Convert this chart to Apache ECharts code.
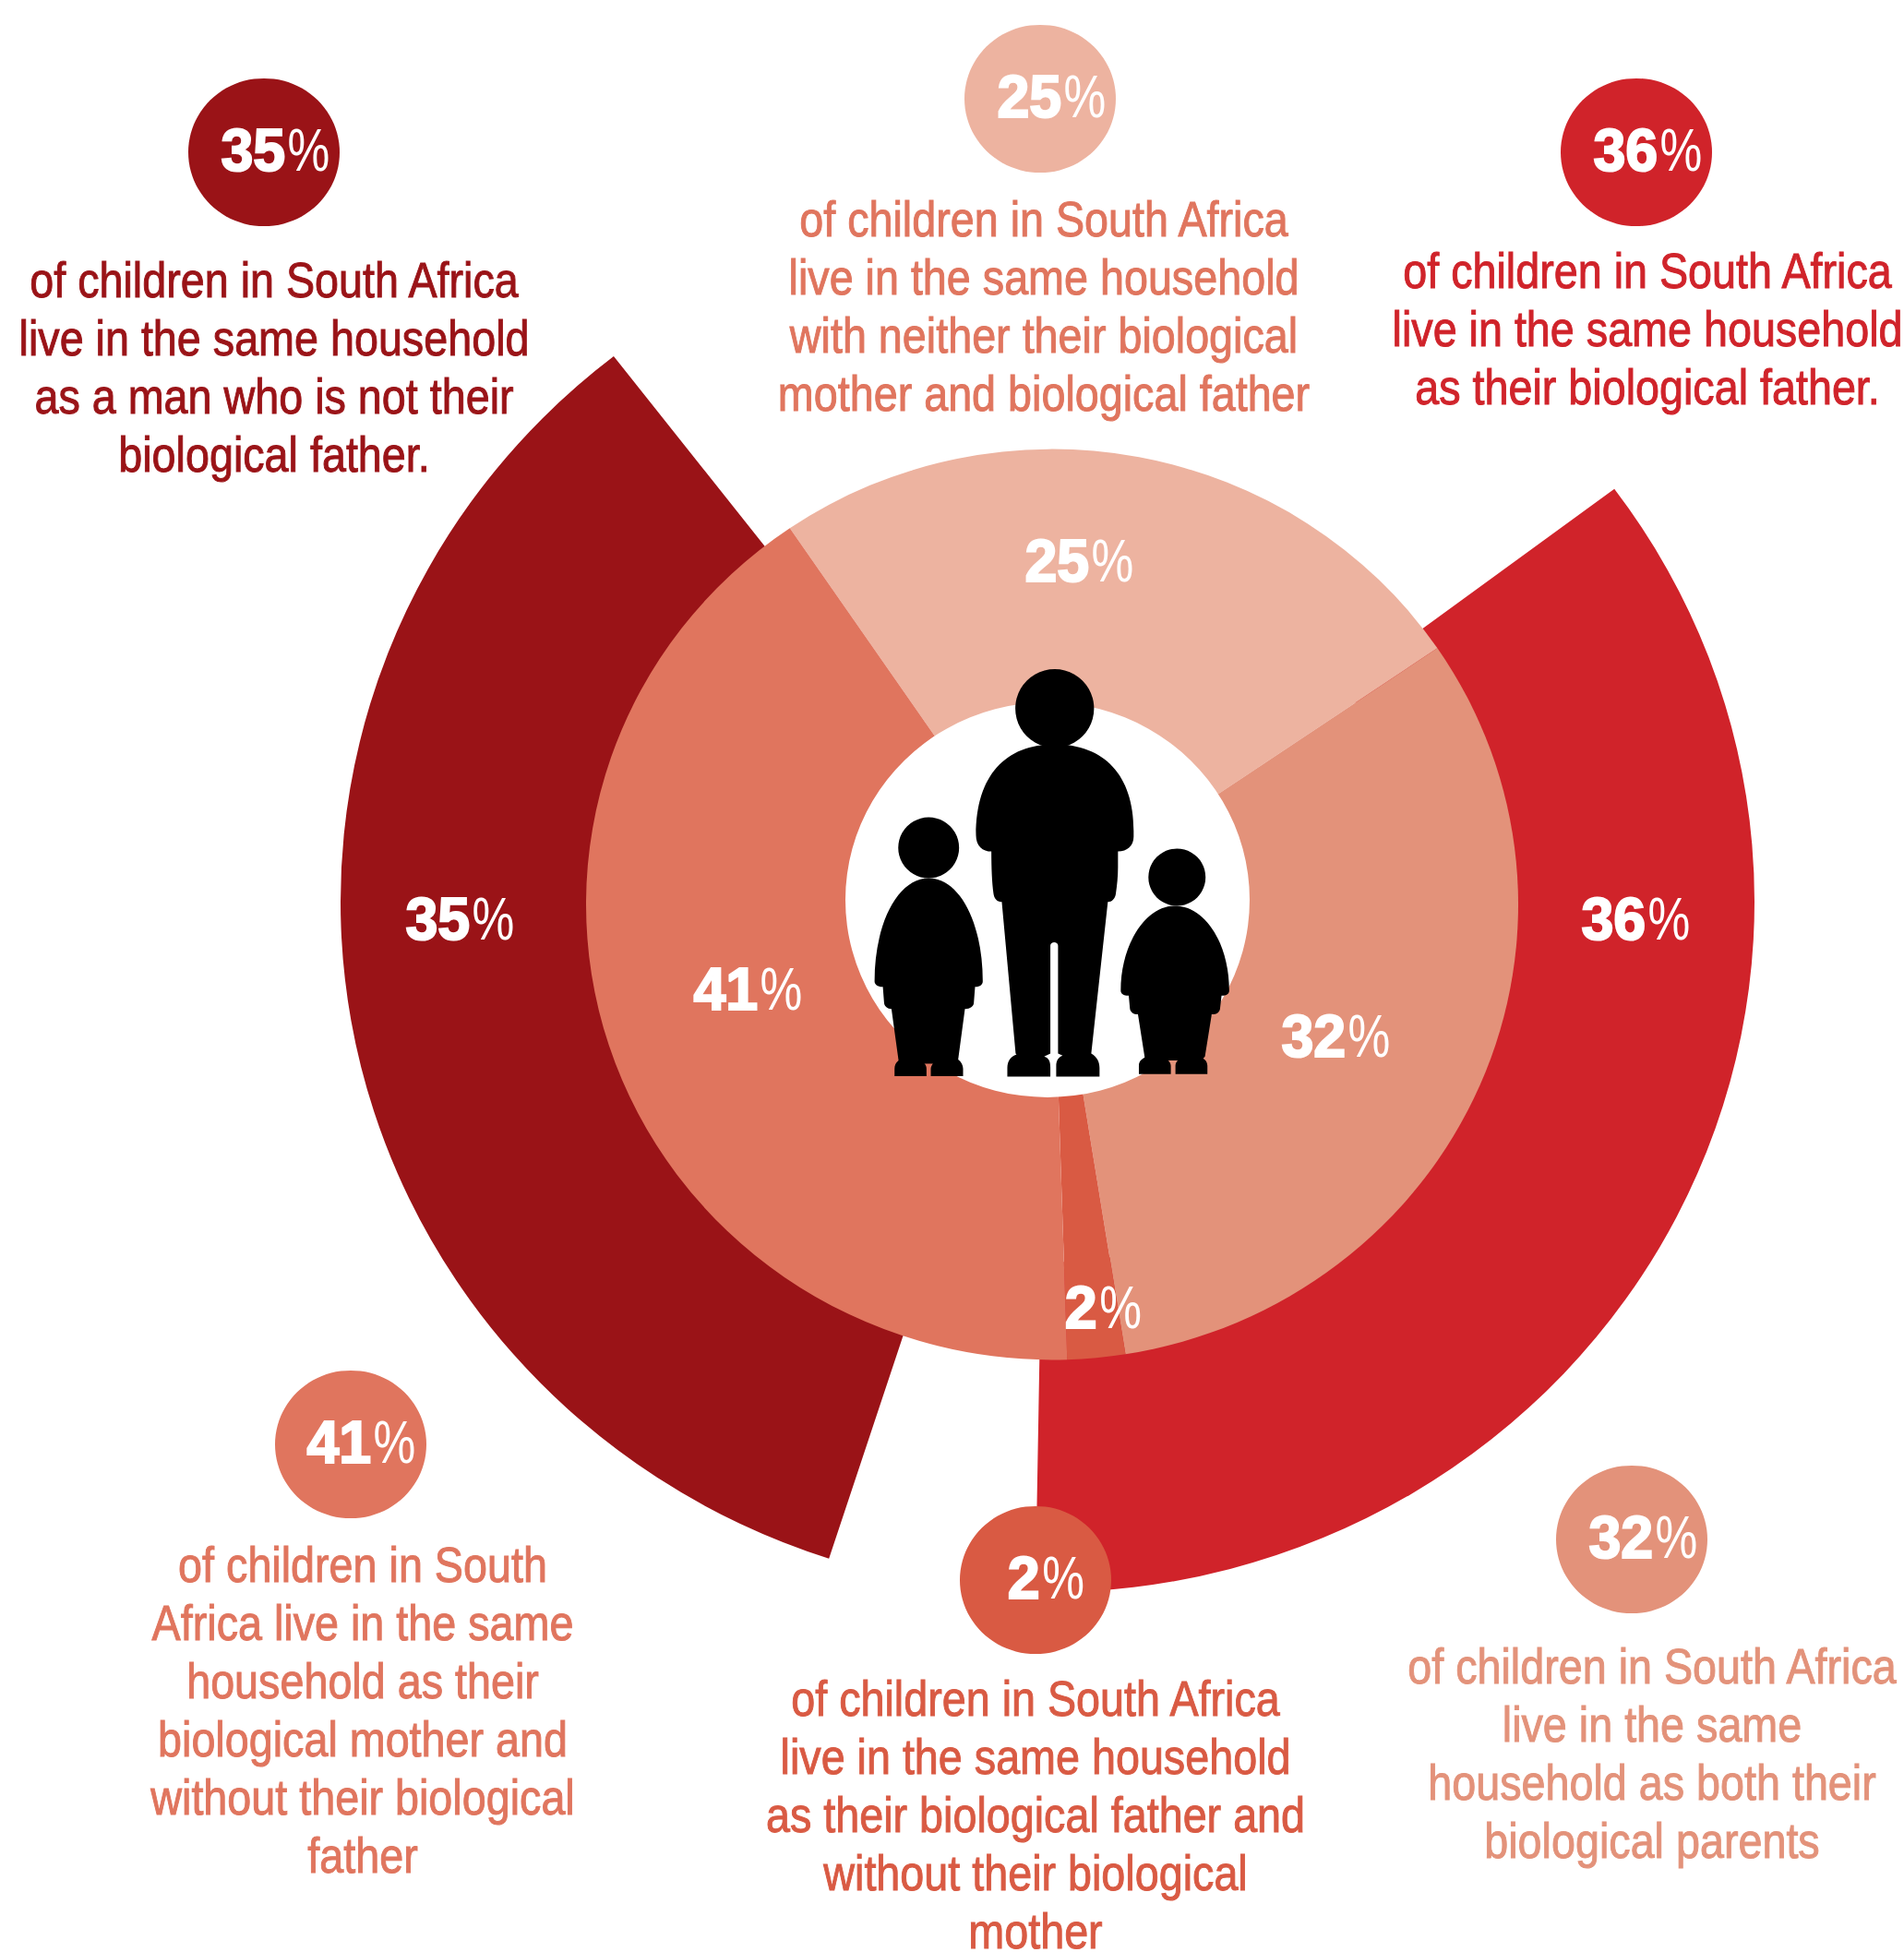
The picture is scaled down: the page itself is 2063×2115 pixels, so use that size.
<!DOCTYPE html>
<html>
<head>
<meta charset="utf-8">
<style>
html,body{margin:0;padding:0;background:#fff;overflow:hidden;width:2063px;height:2115px}
/* The drawing is slightly wider than tall, so the round rings are flattened a little */
#c{width:2063px;height:2165px;transform:scaleY(0.977);transform-origin:0 0}
</style>
<script src="https://cdn.jsdelivr.net/npm/echarts@6/dist/echarts.min.js"></script>
</head>
<body>
<div id="c"></div>
<script>
// Household shares, inner ring (clockwise from the upper left)
const innerNames = ['Neither parent', 'Both parents', 'Father only', 'Mother only'];
const innerValues = [25, 32, 2, 41];
const innerColors = ['#EDB3A0', '#E3927A', '#D95A43', '#E0755E'];

// Outer ring: two shares separated by unpainted spacers
const outerNames = ['Biological father', 'spacer A', 'Man who is not biological father', 'spacer B'];
const outerValues = [36, 4.8, 35, 25.7];
const outerColors = ['#D0232A', 'transparent', '#9A1317', 'transparent'];

const captionOther = ['of children in South Africa', 'live in the same household', 'as a man who is not their', 'biological father.'];
const captionNeither = ['of children in South Africa', 'live in the same household', 'with neither their biological', 'mother and biological father'];
const captionFather = ['of children in South Africa', 'live in the same household', 'as their biological father.'];
const captionMother = ['of children in South', 'Africa live in the same', 'household as their', 'biological mother and', 'without their biological', 'father'];
const captionFatherOnly = ['of children in South Africa', 'live in the same household', 'as their biological father and', 'without their biological', 'mother'];
const captionBoth = ['of children in South Africa', 'live in the same', 'household as both their', 'biological parents'];

const SANS = '"Liberation Sans",Arial,sans-serif';
const FLAT = 0.977;
const sy = y => y / FLAT;

// Heavy number followed by a light, condensed percent sign
function pctText(value, x, y) {
  const digits = String(value);
  const digitW = 34.5, gap = 3, signW = 45;
  const left = x - (digits.length * digitW + gap + signW) / 2;
  return [
    {
      type: 'text', x: left, y: sy(y), z: 30, scaleX: 0.95,
      style: { text: digits, fontFamily: SANS, fontWeight: 'bold', fontSize: 66, fill: '#fff', stroke: '#fff', lineWidth: 2.2, align: 'left', verticalAlign: 'middle' }
    },
    {
      type: 'text', x: left + digits.length * digitW + gap, y: sy(y), z: 30, scaleX: 0.78,
      style: { text: '%', fontFamily: SANS, fontSize: 66, fill: '#fff', align: 'left', verticalAlign: 'middle' }
    }
  ];
}

function callout(value, color, textColor, cx, cy, lx, ly, lines, tx, ty) {
  const out = [
    { type: 'circle', z: 20, shape: { cx, cy: sy(cy), r: 82 }, style: { fill: color } },
    ...pctText(value, lx, ly)
  ];
  lines.forEach((line, i) => out.push({
    type: 'text', x: tx, y: sy(ty + i * 63), z: 20, scaleX: 0.865,
    style: { text: line, fontFamily: SANS, fontSize: 54, fill: textColor, stroke: textColor, lineWidth: 1, align: 'center', verticalAlign: 'middle' }
  }));
  return out;
}

// Family silhouette, drawn in a local 3x grid
const manPath = 'M789 320C950 320 1046 420 1046 600L1046 620C1046 650 1025 668 995 668L995 720C995 750 992 780 988 805C986 822 975 832 962 832L908 1325C925 1335 935 1350 935 1372L935 1400L794 1400L794 1365C794 1350 800 1338 815 1332L800 1325L800 975C800 960 775 960 775 975L775 1325L755 1335C770 1340 775 1350 775 1370L775 1400L635 1400L635 1372C635 1350 645 1335 665 1328L662 1325L617 832C600 832 592 820 590 805C585 770 583 720 583 668C555 668 533 650 533 615C533 420 630 320 789 320Z';
const leftChildPath = 'M379 755C480 755 555 900 555 1090C555 1100 548 1108 530 1108L526 1160C525 1172 515 1180 497 1180L475 1345C485 1352 491 1365 491 1375L491 1399L386 1399L386 1375C386 1368 390 1362 393 1358L365 1358C370 1362 372 1368 372 1375L372 1399L268 1399L268 1375C268 1365 272 1355 281 1348L258 1180C245 1180 235 1172 234 1160L230 1108C212 1108 203 1100 203 1090C203 900 280 755 379 755Z';
const rightChildPath = 'M1180 845C1280 845 1357 970 1357 1120C1357 1130 1350 1137 1332 1137L1327 1180C1325 1190 1318 1198 1300 1198L1278 1335L1272 1342C1280 1345 1286 1355 1286 1365L1286 1392L1182 1392L1182 1365C1182 1358 1185 1352 1190 1348L1158 1348C1163 1352 1167 1358 1167 1365L1167 1392L1063 1392L1063 1365C1063 1355 1068 1345 1082 1338L1060 1198C1045 1198 1036 1190 1034 1180L1030 1137C1012 1137 1004 1130 1004 1120C1004 970 1085 845 1180 845Z';

echarts.graphic.registerShape('familyMan', echarts.graphic.extendPath(manPath));
echarts.graphic.registerShape('familyLeftChild', echarts.graphic.extendPath(leftChildPath));
echarts.graphic.registerShape('familyRightChild', echarts.graphic.extendPath(rightChildPath));

const family = {
  type: 'group', x: 880, y: sy(700), scaleX: 1 / 3, scaleY: 1 / 3 / FLAT, z: 25,
  children: [
    { type: 'circle', z: 25, shape: { cx: 789, cy: 203, r: 128 }, style: { fill: '#000' } },
    { type: 'circle', z: 25, shape: { cx: 379, cy: 656, r: 99 }, style: { fill: '#000' } },
    { type: 'circle', z: 25, shape: { cx: 1187, cy: 752, r: 93 }, style: { fill: '#000' } },
    { type: 'familyMan', z: 25, style: { fill: '#000' } },
    { type: 'familyLeftChild', z: 25, style: { fill: '#000' } },
    { type: 'familyRightChild', z: 25, style: { fill: '#000' } }
  ]
};

const ringSeries = (names, values, colors, center, radius, startAngle, z) => ({
  type: 'pie', center, radius, startAngle, z, silent: true, animation: false,
  label: { show: false }, labelLine: { show: false },
  emphasis: { disabled: true },
  data: values.map((v, i) => ({ name: names[i], value: v, itemStyle: { color: colors[i] } }))
});

const chart = echarts.init(document.getElementById('c'), null, { renderer: 'svg' });
chart.setOption({
  backgroundColor: '#fff',
  animation: false,
  series: [
    ringSeries(outerNames, outerValues, outerColors, [1135, sy(977)], [400, 766], 36.7, 2),
    ringSeries(innerNames, innerValues, innerColors, [1140, sy(980)], [0, 505], 124.25, 3)
  ],
  graphic: { elements: [
    { type: 'circle', z: 10, shape: { cx: 1135, cy: sy(975), r: 219 }, style: { fill: '#fff' } },
    family,
    ...pctText(innerValues[0], 1169, 607),
    ...pctText(innerValues[1], 1447, 1122),
    ...pctText(innerValues[2], 1195, 1416),
    ...pctText(innerValues[3], 810, 1071),
    ...pctText(outerValues[2], 498, 995),
    ...pctText(outerValues[0], 1772, 995),
    ...callout(outerValues[2], '#9A1317', '#9A1317', 286, 165, 298, 162, captionOther, 297, 304),
    ...callout(innerValues[0], '#EDB3A0', '#E0755E', 1127, 107, 1139, 104, captionNeither, 1131, 238),
    ...callout(outerValues[0], '#D0232A', '#D0232A', 1773, 165, 1785, 162, captionFather, 1785, 294),
    ...callout(innerValues[3], '#E0755E', '#E0755E', 380, 1565, 391, 1562, captionMother, 393, 1696),
    ...callout(innerValues[2], '#D95A43', '#D95A43', 1122, 1712, 1133, 1709, captionFatherOnly, 1122, 1841),
    ...callout(innerValues[1], '#E3927A', '#E3927A', 1768, 1668, 1780, 1665, captionBoth, 1790, 1806)
  ] }
});
</script>
</body>
</html>
